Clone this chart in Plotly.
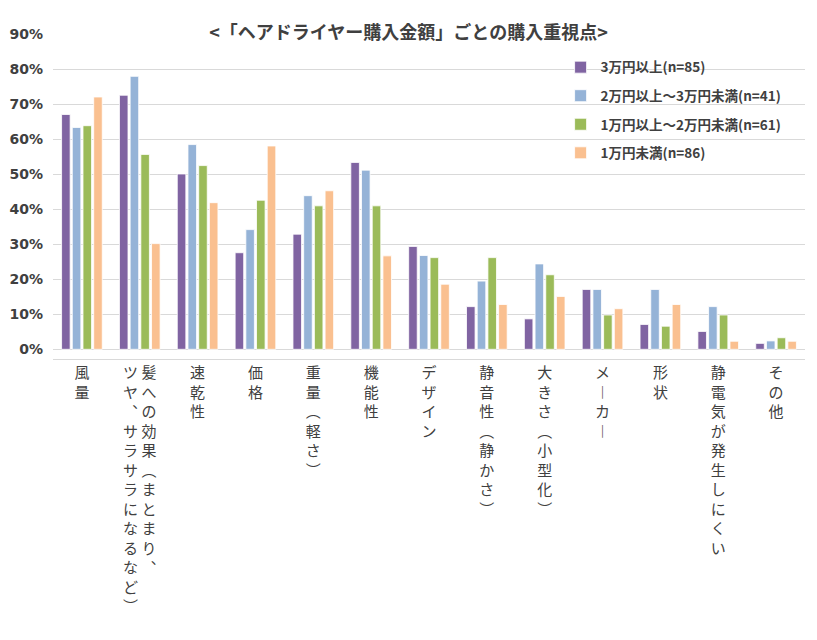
import plotly.graph_objects as go

categories = ["風量", "髪への効果（まとまり、ツヤ、サラサラになるなど）", "速乾性", "価格", "重量（軽さ）",
              "機能性", "デザイン", "静音性（静かさ）", "大きさ（小型化）", "メーカー", "形状",
              "静電気が発生しにくい", "その他"]
series_names = ["3万円以上(n=85)", "2万円以上～3万円未満(n=41)", "1万円以上～2万円未満(n=61)", "1万円未満(n=86)"]
s1 = [67.1, 72.6, 50.1, 27.6, 32.9, 53.4, 29.4, 12.2, 8.7, 17.1, 7.1, 5.1, 1.7]
s2 = [63.4, 78.0, 58.5, 34.2, 43.9, 51.2, 26.8, 19.5, 24.4, 17.1, 17.1, 12.2, 2.4]
s3 = [63.9, 55.7, 52.5, 42.6, 41.0, 41.0, 26.2, 26.2, 21.3, 9.8, 6.6, 9.8, 3.3]
s4 = [72.1, 30.2, 41.9, 58.1, 45.3, 26.7, 18.6, 12.8, 15.1, 11.6, 12.8, 2.3, 2.3]
colors = ["#8064A2", "#95B3D7", "#9BBB59", "#FAC090"]
ytick_vals = [0, 0.1, 0.2, 0.3, 0.4, 0.5, 0.6, 0.7, 0.8, 0.9]
ytick_text = ["0%", "10%", "20%", "30%", "40%", "50%", "60%", "70%", "80%", "90%"]
title_text = "<「ヘアドライヤー購入金額」ごとの購入重視点>"


def vertical(s, split=None):
    trans = {"（": "︵", "）": "︶", "、": "︑", "ー": "︱"}
    cols = [s] if split is None else [s[:split], s[split:]]
    cols = [[trans.get(c, c) for c in col] for col in cols]
    n = max(len(c) for c in cols)
    rows = []
    for i in range(n):
        parts = [col[i] if i < len(col) else "　" for col in reversed(cols)]
        rows.append(" ".join(parts))
    return "<br>".join(rows)


tick_text = [vertical(c, 11 if len(c) > 15 else None) for c in categories]

W, H = 801, 624  # page body has an 8px margin inside the 817x640 window

fig = go.Figure()
for name, vals, col in zip(series_names, [s1, s2, s3, s4], colors):
    fig.add_trace(go.Bar(
        x=categories, y=[v / 100 for v in vals], name=name, legendgroup=name,
        marker=dict(color=col, line=dict(color="rgba(255,255,255,0.8)", width=1)),
    ))

fig.update_layout(
    width=W, height=H,
    margin=dict(l=45, r=4, t=26, b=273),
    paper_bgcolor="white", plot_bgcolor="white",
    barmode="group", bargap=0.26, bargroupgap=0.2,
    title=dict(text=title_text, x=0.5, xanchor="center", y=1 - 25 / H, yanchor="middle",
               yref="container",
               font=dict(family="Noto Sans CJK JP", size=18, color="#404040", weight="bold")),
    legend=dict(x=0.675, y=0.945, xanchor="left", yanchor="top", bgcolor="rgba(0,0,0,0)",
                tracegroupgap=8, itemwidth=30,
                font=dict(family="Noto Sans CJK JP", size=13.5, color="#404040", weight="bold")),
    font=dict(family="Noto Sans CJK JP", color="#404040"),
    showlegend=True,
)
fig.update_yaxes(range=[-0.0277, 0.901], tickvals=ytick_vals, ticktext=ytick_text,
                 showgrid=True, gridcolor="#D9D9D9", gridwidth=1, zeroline=False,
                 ticklabelstandoff=9, automargin=False,
                 tickfont=dict(family="DejaVu Sans", size=14, color="#404040", weight="bold"))
fig.update_xaxes(tickmode="array", tickvals=categories, ticktext=tick_text, tickangle=0,
                 showline=True, linecolor="#D9D9D9", linewidth=1, showgrid=False,
                 automargin=False,
                 tickfont=dict(family="Noto Sans CJK JP", size=15, color="#404040"))

fig.write_html("out.html")
